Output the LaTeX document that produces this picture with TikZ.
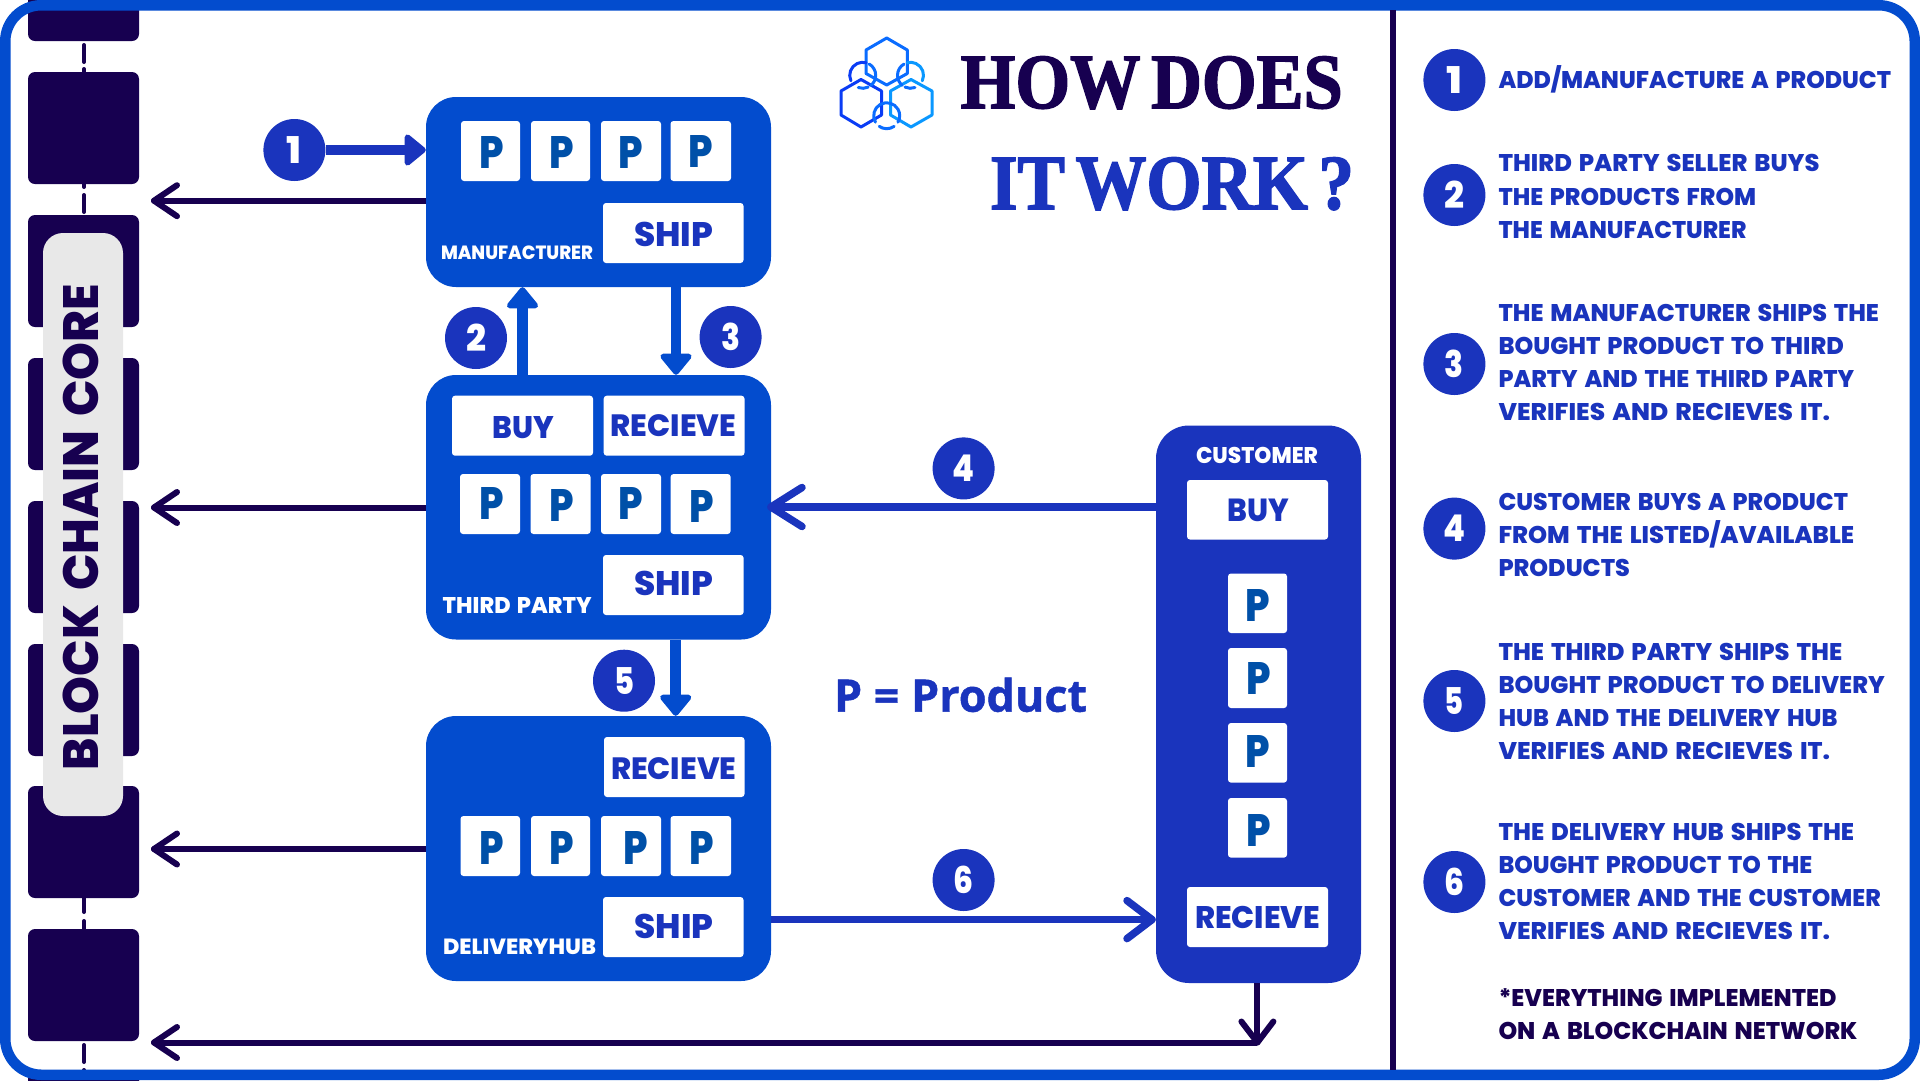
\documentclass[tikz,border=0pt]{standalone}
\usepackage{fontspec}
\usepackage{graphicx}
\usetikzlibrary{arrows.meta,calc}
\newfontfamily\pop{Poppins}[BoldFont={Poppins ExtraBold},WordSpace=1.5]
\newfontfamily\ops{Open Sans}[BoldFeatures={FakeBold=1}]
\newfontfamily\ttl{Liberation Serif}[BoldFeatures={FakeBold=2},WordSpace=0.6]
\definecolor{mainblue}{HTML}{034CCE}
\definecolor{roy}{HTML}{1A34BD}
\definecolor{navy}{HTML}{170050}
\definecolor{pblue}{HTML}{0050A8}
\definecolor{pillgray}{HTML}{E8E8E8}
\newsavebox\fitA
\newsavebox\fitB
\newcommand\fitt[3]{\sbox\fitA{#3}\sbox\fitB{H}\scalebox{\fpeval{#1/(\the\wd\fitA)}}[\fpeval{#2/(\the\ht\fitB)}]{\usebox\fitA}}
\newcommand\hb{\pop\bfseries\fontsize{24}{24}\selectfont}
\newcommand\lbl[8]{\node[lblnode,text=#6] (#1) at (#2,#3) {#7\fitt{#4}{#5}{#8}};}
\newcommand\bx[6]{\node[#2,minimum width={#5-#3},minimum height={#6-#4}] (#1) at ({(#3+#5)/2},{(#4+#6)/2}) {};}
\newcommand\chev[3]{\draw[#3] ($(#1)+(#2)$) -- (#1);}
\newcounter{ln}
\newcommand\rl[3]{\stepcounter{ln}\lbl{rl\arabic{ln}}{1498.5}{#1}{#2}{17}{roy}{\hb}{#3}}
\newcommand\Pg[3]{\stepcounter{ln}\lbl{pg\arabic{ln}}{#1}{#2}{24.5}{#3}{pblue}{\hb}{P}}
\newcommand\dig[1]{\hb\fitt{#1}{26}}
\tikzset{
 lblnode/.style={inner sep=0pt,outer sep=0pt,anchor=base west},
 block/.style={fill=navy,rounded corners=7pt,inner sep=0pt},
 bigbox/.style={fill=mainblue,rounded corners=30pt,inner sep=0pt},
 custbox/.style={fill=roy,rounded corners=33pt,inner sep=0pt},
 whitebox/.style={fill=white,rounded corners=3pt,inner sep=0pt},
 numc/.style={circle,fill=roy,text=white,minimum size=62pt,inner sep=0pt},
 navyline/.style={draw=navy,line width=6pt},
 royline/.style={draw=roy,line width=7.5pt},
 chevn/.style={draw=navy,line width=6pt,line cap=round,line join=round},
 chevr/.style={draw=roy,line width=7.5pt,line cap=round,line join=round},
 fat/.style={line width=10.5pt,-{Triangle[width=36pt,length=23pt,round]}},
 hexl/.style={line width=3pt,line join=round,line cap=round},
 linkdash/.style={draw=navy,line width=4pt,line cap=round},
}
\begin{document}
\begin{tikzpicture}[x=1pt,y=-1pt]
\useasboundingbox (0,0) rectangle (1920,1080);
\fill[white] (0,0) rectangle (1920,1080);
% chain
\foreach \i/\a/\b in {0/-71/41,1/72/184,2/215/327,3/358/470,4/501/613,5/644/756,6/786/898,7/929/1041,8/1072/1184}{
  \bx{blk\i}{block}{28}{\a}{139}{\b}
}
\foreach \n/\a/\b in {a/45/62,b/69/72,c/184/187,d/195/212,e/898/912,f/921/929,g/1045/1062,h/1070/1072}{
  \coordinate (dl\n1) at (84,\a); \coordinate (dl\n2) at (84,\b);
  \draw[linkdash] (dl\n1) -- (dl\n2);
}
% frame
\draw[mainblue,line width=10.5pt,rounded corners=36pt] (5.25,5.25) rectangle (1914.75,1074.75);
% pill
\bx{pill}{fill=pillgray,rounded corners=20pt,inner sep=0pt}{43}{233}{123}{816}
\node[lblnode,text=navy,rotate=90] (core) at (98,770) {\pop\bfseries\fontsize{44}{44}\selectfont\fitt{486}{35}{BLOCK CHAIN CORE}};
% divider
\coordinate (divT) at (1393,10); \coordinate (divB) at (1393,1070);
\draw[navy,line width=5.4pt] (divT) -- (divB);
% logo
\begin{scope}[hexl]
\definecolor{lg1}{HTML}{0A6CFF}\definecolor{lg2}{HTML}{0A3CF5}\definecolor{lg3}{HTML}{0A98FF}
\draw[lg1] (886.7,38)--(907.3,50)--(907.3,73.5)--(886.7,85)--(866,73.5)--(866,50)--cycle;
\draw[lg2] (861,79.5)--(881.5,91)--(881.5,115)--(861,127)--(841,115)--(841,91)--cycle;
\draw[lg3] (911,79.5)--(932,91)--(932,115)--(911,127)--(890.5,115)--(890.5,91)--cycle;
\draw[lg2] ([shift={(155:13)}]862.7,75.3) arc[start angle=155,end angle=285,radius=13];
\draw[lg1] ([shift={(300:13)}]862.7,75.3) arc[start angle=300,end angle=410,radius=13];
\draw[lg1] ([shift={(65:13)}]862.7,75.3) arc[start angle=65,end angle=110,radius=13];
\draw[lg3] ([shift={(25:13)}]910.5,75.3) arc[start angle=25,end angle=-105,radius=13];
\draw[lg1] ([shift={(-120:13)}]910.5,75.3) arc[start angle=-120,end angle=-230,radius=13];
\draw[lg1] ([shift={(115:13)}]910.5,75.3) arc[start angle=115,end angle=70,radius=13];
\draw[lg1] ([shift={(150:13)}]886.7,115.7) arc[start angle=150,end angle=390,radius=13];
\draw[lg1] ([shift={(55:13)}]886.7,115.7) arc[start angle=55,end angle=125,radius=13];
\end{scope}
% title
\lbl{t1}{960.7}{108}{382}{51}{navy}{\ttl\bfseries\fontsize{72}{72}\selectfont}{HOW DOES}
\lbl{t2}{990}{209}{364}{51}{roy}{\ttl\bfseries\fontsize{72}{72}\selectfont}{IT WORK ?}
\lbl{pdef}{834}{711.7}{253}{32}{roy}{\ops\bfseries\fontsize{44}{44}\selectfont}{P = Product}
% big boxes
\bx{mfr}{bigbox}{426}{97}{771}{287}
\bx{tp}{bigbox}{426}{375}{771}{639.5}
\bx{dh}{bigbox}{426}{716}{771}{981}
\bx{cu}{custbox}{1156}{425.5}{1361}{983}
% manufacturer contents
\bx{m1}{whitebox}{461}{121}{520}{181}
\bx{m2}{whitebox}{531}{121}{590}{181}
\bx{m3}{whitebox}{601}{121}{661}{181}
\bx{m4}{whitebox}{670.5}{121}{731}{181}
\bx{mship}{whitebox}{603}{203}{743.5}{263}
\Pg{479.6}{168}{32}\Pg{549}{168.5}{32}\Pg{618}{168}{32}\Pg{688.5}{167.5}{32}
\lbl{lship1}{634}{246.7}{79}{24}{roy}{\hb}{SHIP}
\lbl{lmfr}{441}{259.5}{152}{13.5}{white}{\hb}{MANUFACTURER}
% third party contents
\bx{tbuy}{whitebox}{452}{395.7}{593}{455.7}
\bx{trec}{whitebox}{603.7}{395.7}{744.5}{455.7}
\bx{t1b}{whitebox}{460}{474}{520}{534}
\bx{t2b}{whitebox}{530.5}{474}{590.5}{534}
\bx{t3b}{whitebox}{601}{474}{661}{534}
\bx{t4b}{whitebox}{670.6}{474}{730.6}{534}
\bx{tship}{whitebox}{603}{555}{743.6}{615}
\Pg{479.5}{519}{32}\Pg{549}{521}{32}\Pg{618}{519.7}{32}\Pg{689.5}{522}{32}
\lbl{lbuy1}{492.7}{438}{61.5}{22}{roy}{\hb}{BUY}
\lbl{lrec1}{610.7}{436.7}{125.5}{21.7}{roy}{\hb}{RECIEVE}
\lbl{lship2}{634}{595.7}{79}{24}{roy}{\hb}{SHIP}
\lbl{ltp}{442.7}{613.3}{149}{16}{white}{\hb}{THIRD PARTY}
% delivery hub contents
\bx{drec}{whitebox}{604}{737}{744.5}{797}
\bx{d1}{whitebox}{460.5}{816}{520}{876}
\bx{d2}{whitebox}{531}{816}{590}{876}
\bx{d3}{whitebox}{601}{816}{661}{876}
\bx{d4}{whitebox}{670.5}{816}{731}{876}
\bx{dship}{whitebox}{603}{897}{743.5}{957}
\Pg{479.6}{864}{33}\Pg{549.5}{864}{33}\Pg{623}{864}{33}\Pg{689}{864}{33}
\lbl{lrec2}{611}{779}{125.5}{21.7}{roy}{\hb}{RECIEVE}
\lbl{lship3}{634.5}{938}{79}{24}{roy}{\hb}{SHIP}
\lbl{ldh}{443}{954.5}{153}{15.5}{white}{\hb}{DELIVERYHUB}
% customer contents
\lbl{lcu}{1196}{463}{122}{16}{white}{\hb}{CUSTOMER}
\bx{cbuy}{whitebox}{1187}{480}{1328}{539.5}
\bx{c1b}{whitebox}{1228}{573.5}{1287}{633}
\bx{c2b}{whitebox}{1228}{648}{1287}{708}
\bx{c3b}{whitebox}{1228}{723}{1287}{782.6}
\bx{c4b}{whitebox}{1228}{798}{1287}{857.6}
\bx{crec}{whitebox}{1187}{887}{1328}{947}
\lbl{lbuy2}{1227.4}{521.4}{61.5}{22.5}{roy}{\hb}{BUY}
\lbl{lrec3}{1195}{928}{125}{22}{roy}{\hb}{RECIEVE}
\Pg{1245.5}{621}{32}\Pg{1246.5}{694.4}{32}\Pg{1245.5}{767}{32}\Pg{1246.5}{846}{32}
% numbered circles on the diagram
\node[numc] (c1) at (294.4,150) {\dig{15}{1}};
\node[numc] (c2) at (476,338) {\dig{20}{2}};
\node[numc] (c3) at (730.6,337) {\dig{19}{3}};
\node[numc] (c4) at (963.6,468.4) {\dig{22}{4}};
\node[numc] (c5) at (624,680.7) {\dig{20}{5}};
\node[numc] (c6) at (963.6,880) {\dig{20}{6}};
% connectors
\draw[draw=roy,fat] (c1.east) -- (mfr.west |- c1);
\coordinate (a2) at (522.5,375);
\draw[draw=mainblue,fat] (a2) -- (a2 |- mfr.south);
\coordinate (a3) at (676,287);
\draw[draw=mainblue,fat] (a3) -- (a3 |- tp.north);
\coordinate (a5) at (675.7,639.5);
\draw[draw=mainblue,fat] (a5) -- (a5 |- dh.north);
\coordinate (p4) at (771,507);
\draw[royline] (cu.west |- p4) -- (p4);
\chev{p4}{31,-19.5}{chevr}\chev{p4}{31,19.5}{chevr}
\coordinate (p6) at (1152,919.6);
\draw[royline] (dh.east |- p6) -- (p6);
\chev{p6}{-25,-19}{chevr}\chev{p6}{-25,19}{chevr}
\coordinate (n1) at (154,200.7);
\draw[navyline] (mfr.west |- n1) -- (n1);
\chev{n1}{23,-15.5}{chevn}\chev{n1}{23,15.5}{chevn}
\coordinate (n2) at (154,507.5);
\draw[navyline] (tp.west |- n2) -- (n2);
\chev{n2}{23,-15.5}{chevn}\chev{n2}{23,15.5}{chevn}
\coordinate (n3) at (154,849);
\draw[navyline] (dh.west |- n3) -- (n3);
\chev{n3}{23,-15.5}{chevn}\chev{n3}{23,15.5}{chevn}
\coordinate (n4) at (154,1042.5);
\coordinate (n5) at (1257.4,1042.5);
\draw[navyline] (n5) -- (n4);
\chev{n4}{23,-15.5}{chevn}\chev{n4}{23,15.5}{chevn}
\draw[navyline] (cu.south -| n5) -- (n5);
\chev{n5}{-16,-21}{chevn}\chev{n5}{16,-21}{chevn}
% right column
\node[numc] (r1) at (1454.4,80) {\dig{16}{1}};
\node[numc] (r2) at (1454.4,195) {\dig{20}{2}};
\node[numc] (r3) at (1454.4,364) {\dig{19}{3}};
\node[numc] (r4) at (1454.4,528.6) {\dig{22}{4}};
\node[numc] (r5) at (1454.4,701) {\dig{19}{5}};
\node[numc] (r6) at (1454.4,882) {\dig{20}{6}};
\rl{88}{392.6}{ADD/MANUFACTURE A PRODUCT}
\rl{171.5}{321}{THIRD PARTY SELLER BUYS}
\rl{205}{257.6}{THE PRODUCTS FROM}
\rl{238}{248}{THE MANUFACTURER}
\rl{321}{380.5}{THE MANUFACTURER SHIPS THE}
\rl{354}{345.4}{BOUGHT PRODUCT TO THIRD}
\rl{387.4}{355.7}{PARTY AND THE THIRD PARTY}
\rl{420}{331.6}{VERIFIES AND RECIEVES IT.}
\rl{510.6}{349.5}{CUSTOMER BUYS A PRODUCT}
\rl{543.5}{355.7}{FROM THE LISTED/AVAILABLE}
\rl{576.4}{131.5}{PRODUCTS}
\rl{660}{343.7}{THE THIRD PARTY SHIPS THE}
\rl{693}{386.4}{BOUGHT PRODUCT TO DELIVERY}
\rl{726}{339}{HUB AND THE DELIVERY HUB}
\rl{759}{331.6}{VERIFIES AND RECIEVES IT.}
\rl{840.5}{355.7}{THE DELIVERY HUB SHIPS THE}
\rl{873}{313.7}{BOUGHT PRODUCT TO THE}
\rl{906}{382.3}{CUSTOMER AND THE CUSTOMER}
\rl{939}{331.6}{VERIFIES AND RECIEVES IT.}
\lbl{note1}{1498.5}{1006}{338}{17}{navy}{\hb}{*EVERYTHING IMPLEMENTED}
\lbl{note2}{1498.5}{1039.5}{359}{17}{navy}{\hb}{ON A BLOCKCHAIN NETWORK}
\end{tikzpicture}
\end{document}
